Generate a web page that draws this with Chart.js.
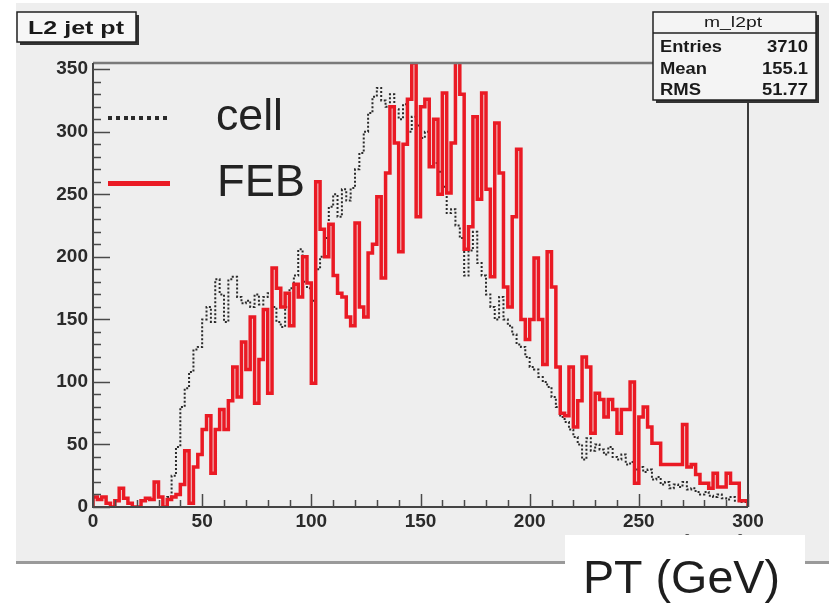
<!DOCTYPE html>
<html>
<head>
<meta charset="utf-8">
<title>L2 jet pt</title>
<script src="https://cdn.jsdelivr.net/npm/chart.js@4.4.1/dist/chart.umd.min.js"></script>
<style>
  html, body { margin: 0; padding: 0; background: #ffffff; }
  canvas { display: block; }
</style>
</head>
<body>
<canvas id="ptChart" width="829" height="603"></canvas>
<script>
// histogram binning (GeV)
const ptRange = [0, 300];
const binCount = 150;

// entries per 2 GeV bin
const cellCounts = [
  0, 0, 0, 0, 0, 0, 0, 0, 0, 0,
  0, 0, 0, 0, 0, 0, 0, 0, 8, 25,
  48, 80, 95, 108, 126, 128, 150, 160, 148, 182,
  170, 148, 182, 184, 168, 163, 165, 160, 170, 162,
  168, 171, 160, 148, 144, 160, 175, 185, 206, 180,
  175, 165, 190, 200, 215, 240, 250, 232, 254, 245,
  255, 270, 283, 300, 315, 328, 335, 325, 320, 330,
  318, 310, 322, 300, 312, 305, 295, 300, 285, 275,
  268, 256, 235, 238, 225, 215, 185, 205, 220, 195,
  185, 170, 160, 150, 168, 150, 145, 138, 130, 128,
  120, 112, 110, 104, 100, 96, 88, 80, 72, 68,
  62, 56, 50, 38, 55, 45, 50, 46, 42, 48,
  40, 38, 42, 34, 36, 30, 32, 28, 30, 22,
  24, 18, 20, 15, 18, 16, 20, 14, 15, 12,
  10, 12, 9, 8, 10, 7, 6, 8, 5, 4
];

const febCounts = [
  8, 8, 6, 8, 3, 0, 5, 15, 7, 3,
  0, 0, 5, 7, 6, 20, 8, 0, 6, 8,
  10, 18, 45, 3, 32, 42, 62, 73, 27, 62,
  78, 62, 85, 112, 88, 132, 110, 152, 83, 118,
  158, 91, 191, 175, 160, 171, 145, 178, 168, 200,
  179, 99, 260, 222, 200, 226, 185, 171, 168, 152,
  145, 227, 160, 152, 203, 210, 248, 183, 267, 320,
  291, 204, 290, 326, 355, 232, 320, 326, 272, 310,
  250, 331, 251, 291, 356, 330, 206, 224, 312, 246,
  331, 254, 184, 307, 267, 176, 160, 232, 286, 150,
  134, 150, 199, 150, 114, 204, 176, 112, 75, 73,
  112, 64, 85, 120, 112, 59, 91, 86, 72, 86,
  78, 59, 78, 78, 100, 19, 72, 80, 64, 51,
  51, 34, 34, 34, 34, 34, 66, 32, 34, 26,
  19, 19, 15, 27, 16, 16, 27, 19, 19, 5
];

const yTickValues = [0, 50, 100, 150, 200, 250, 300, 350];
const xTickValues = [0, 50, 100, 150, 200, 250, 300];

const legendLabels = ["cell", "FEB"];
const histTitle = "L2 jet pt";
const statName = "m_l2pt";
const statLabels = ["Entries", "Mean", "RMS"];
const statValues = ["3710", "155.1", "51.77"];
const axisTitle = "PT (GeV)";

const FONT = "'Liberation Sans', Arial, Helvetica, sans-serif";
const PANEL = "#eeeeee";
const RED = "#ea1a24";
const DARK = "#2a2a2a";

function buildSteps(counts) {
  const width = (ptRange[1] - ptRange[0]) / counts.length;
  const points = [{ x: ptRange[0], y: 0 }];
  counts.forEach((value, i) => {
    points.push({ x: ptRange[0] + i * width, y: value });
  });
  points.push({ x: ptRange[1], y: counts[counts.length - 1] });
  points.push({ x: ptRange[1], y: 0 });
  return points;
}

// draws text squeezed or stretched to a given width
function fitText(ctx, text, x, y, width, align) {
  const natural = ctx.measureText(text).width;
  const sx = width / natural;
  ctx.save();
  ctx.textAlign = "left";
  const left = align === "right" ? x - width : align === "center" ? x - width / 2 : x;
  ctx.translate(left, y);
  ctx.scale(sx, 1);
  ctx.fillText(text, 0, 0);
  ctx.restore();
}

function drawBox(ctx, x, y, w, h, fill) {
  ctx.fillStyle = "#333333";
  ctx.fillRect(x + 3, y + 3, w, h);
  ctx.fillStyle = fill;
  ctx.fillRect(x, y, w, h);
  ctx.strokeStyle = "#222222";
  ctx.lineWidth = 1.5;
  ctx.strokeRect(x, y, w, h);
}

const backgroundPlugin = {
  id: "rootBackground",
  beforeDraw(chart) {
    const ctx = chart.ctx;
    ctx.save();
    ctx.fillStyle = "#ffffff";
    ctx.fillRect(0, 0, chart.width, chart.height);
    ctx.fillStyle = PANEL;
    ctx.fillRect(16, 3, chart.width - 16, 559);
    ctx.fillStyle = "#9a9a9a";
    ctx.fillRect(16, 561, chart.width - 16, 3);
    ctx.restore();
  }
};

const framePlugin = {
  id: "rootFrame",
  afterDatasetsDraw(chart) {
    const ctx = chart.ctx;
    const area = chart.chartArea;
    const xScale = chart.scales.x;
    const yScale = chart.scales.y;
    ctx.save();

    // frame
    ctx.strokeStyle = "#7a7a7a";
    ctx.lineWidth = 2.5;
    ctx.beginPath();
    ctx.moveTo(area.left, area.top);
    ctx.lineTo(area.right, area.top);
    ctx.stroke();
    ctx.strokeStyle = "#3a3a3a";
    ctx.lineWidth = 2;
    ctx.beginPath();
    ctx.moveTo(area.right, area.top);
    ctx.lineTo(area.right, area.bottom);
    ctx.stroke();

    // axes
    ctx.strokeStyle = "#444444";
    ctx.lineWidth = 2;
    ctx.beginPath();
    ctx.moveTo(area.left, area.top);
    ctx.lineTo(area.left, area.bottom);
    ctx.lineTo(area.right, area.bottom);
    ctx.stroke();

    // ticks, drawn inside the frame
    ctx.lineWidth = 1.5;
    ctx.strokeStyle = "#4a4a4a";
    for (let v = 0; v <= 350; v += 10) {
      const py = Math.round(yScale.getPixelForValue(v)) + 0.5;
      const len = v % 50 === 0 ? 17 : 8;
      ctx.beginPath();
      ctx.moveTo(area.left, py);
      ctx.lineTo(area.left + len, py);
      ctx.stroke();
    }
    for (let v = ptRange[0]; v <= ptRange[1]; v += 10) {
      const px = Math.round(xScale.getPixelForValue(v)) + 0.5;
      const len = v % 50 === 0 ? 13 : 7;
      ctx.beginPath();
      ctx.moveTo(px, area.bottom);
      ctx.lineTo(px, area.bottom - len);
      ctx.stroke();
    }
    ctx.restore();
  },
  afterDraw(chart) {
    const ctx = chart.ctx;
    const datasets = chart.data.datasets;
    ctx.save();

    // legend
    const cellSet = datasets.find(d => d.label === legendLabels[0]);
    const febSet = datasets.find(d => d.label === legendLabels[1]);
    ctx.fillStyle = cellSet.borderColor;
    for (let x = 108; x <= 163; x += 7.8) {
      ctx.fillRect(Math.round(x), 116, 4, 4);
    }
    ctx.fillStyle = febSet.borderColor;
    ctx.fillRect(108, 181, 62, 5);
    ctx.fillStyle = "#222222";
    ctx.font = "45px " + FONT;
    fitText(ctx, legendLabels[0], 216, 130, 67, "left");
    fitText(ctx, legendLabels[1], 217, 196, 88, "left");

    // title box
    drawBox(ctx, 17, 12, 119, 30, "#f7f7f7");
    ctx.fillStyle = "#1a1a1a";
    ctx.font = "bold 19px " + FONT;
    fitText(ctx, histTitle, 28, 34, 96, "left");

    // stats box
    drawBox(ctx, 653, 12, 163, 88, "#f4f4f4");
    ctx.strokeStyle = "#222222";
    ctx.lineWidth = 1.5;
    ctx.beginPath();
    ctx.moveTo(653, 33);
    ctx.lineTo(816, 33);
    ctx.stroke();
    ctx.fillStyle = "#1a1a1a";
    ctx.font = "15px " + FONT;
    fitText(ctx, statName, 733, 27, 58, "center");
    ctx.font = "bold 16px " + FONT;
    const labelWidths = [62, 47, 41];
    const valueWidths = [41, 46, 46];
    statLabels.forEach((label, i) => {
      const base = 52 + i * 21.5;
      fitText(ctx, label, 660, base, labelWidths[i], "left");
      fitText(ctx, statValues[i], 808, base, valueWidths[i], "right");
    });

    // ROOT axis title, mostly hidden under the pasted label
    ctx.fillStyle = "#555555";
    ctx.font = "bold 14px " + FONT;
    fitText(ctx, "p   (GeV)", 746, 545, 100, "right");

    // pasted axis label
    ctx.fillStyle = "#ffffff";
    ctx.fillRect(565, 535, 240, 68);
    ctx.fillStyle = "#1e1e1e";
    ctx.font = "47px " + FONT;
    fitText(ctx, axisTitle, 583, 593, 197, "left");
    ctx.restore();
  }
};

function initPtChart() {
  const canvas = document.getElementById("ptChart");
  const tickFont = { family: FONT, size: 19, weight: "bold" };

  new Chart(canvas, {
    type: "line",
    data: {
      datasets: [
        {
          label: legendLabels[1],
          data: buildSteps(febCounts),
          borderColor: RED,
          borderWidth: 3.5,
          stepped: "after",
          pointRadius: 0,
          fill: false,
          order: 1
        },
        {
          label: legendLabels[0],
          data: buildSteps(cellCounts),
          borderColor: DARK,
          borderWidth: 2,
          borderDash: [2, 2],
          stepped: "after",
          pointRadius: 0,
          fill: false,
          order: 2
        }
      ]
    },
    options: {
      responsive: false,
      animation: false,
      devicePixelRatio: 1,
      layout: {
        padding: { left: 0, right: 81, top: 63, bottom: 0 }
      },
      plugins: {
        legend: { display: false },
        tooltip: { enabled: false },
        title: { display: false }
      },
      scales: {
        x: {
          type: "linear",
          min: ptRange[0],
          max: ptRange[1],
          grid: { display: false, drawTicks: false },
          border: { display: false },
          afterBuildTicks: scale => {
            scale.ticks = xTickValues.map(value => ({ value }));
          },
          afterFit: scale => {
            scale.height = 96;
          },
          ticks: {
            font: tickFont,
            color: "#2a2a2a",
            padding: 3,
            maxRotation: 0,
            autoSkip: false
          }
        },
        y: {
          type: "linear",
          min: 0,
          max: 355,
          grid: { display: false, drawTicks: false },
          border: { display: false },
          afterBuildTicks: scale => {
            scale.ticks = yTickValues.map(value => ({ value }));
          },
          afterFit: scale => {
            scale.width = 93;
          },
          ticks: {
            font: tickFont,
            color: "#2a2a2a",
            padding: 5,
            autoSkip: false
          }
        }
      }
    },
    plugins: [backgroundPlugin, framePlugin]
  });
}

initPtChart();
</script>
</body>
</html>
